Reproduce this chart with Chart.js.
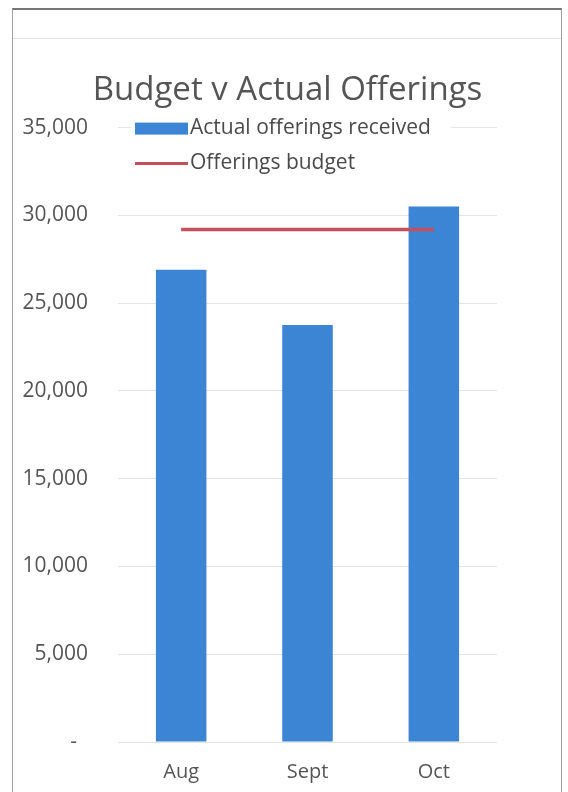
<!DOCTYPE html>
<html>
<head>
<meta charset="utf-8">
<script src="https://cdn.jsdelivr.net/npm/chart.js@4"></script>
<style>
  html, body { margin: 0; padding: 0; background: #fff; }
  #wrap { position: relative; width: 568px; height: 792px; overflow: hidden; }
  #frame { position: absolute; left: 12px; top: 8px; width: 548px; height: 820px;
           border: 1px solid #a0a0a0; border-top: 2px solid #777; }
  #rule { position: absolute; left: 13px; top: 38px; width: 548px; height: 1px; background: #e2e2e2; }
  #chart { position: absolute; left: 0; top: 0; }
</style>
</head>
<body>
<div id="wrap">
  <div id="frame"></div>
  <div id="rule"></div>
  <canvas id="chart" width="568" height="792"></canvas>
</div>
<script>
// Values
const months = ['Aug', 'Sept', 'Oct'];
const actualOfferings = [26900, 23750, 30500];
const offeringsBudget = [29200, 29200, 29200];
const yTicks = [0, 5000, 10000, 15000, 20000, 25000, 30000, 35000];

const barBlue = '#3c85d5';
const budgetRed = '#c4505e';
const textGrey = '#555555';

// Excel-style legend stacked inside the top of the plot area
const insideLegend = {
    id: 'insideLegend',
    afterDatasetsDraw(chart) {
        const ctx = chart.ctx;
        const area = chart.chartArea;
        const x0 = area.left + 17;
        let y = area.top + 1;
        ctx.save();
        ctx.fillStyle = '#fff';
        ctx.fillRect(x0 - 4, y - 14, 320, 58);
        ctx.font = '21px "Open Sans"';
        ctx.textBaseline = 'middle';
        chart.data.datasets.forEach(ds => {
            if (ds.type === 'line') {
                ctx.strokeStyle = ds.borderColor;
                ctx.lineWidth = 3;
                ctx.beginPath();
                ctx.moveTo(x0, y);
                ctx.lineTo(x0 + 53, y);
                ctx.stroke();
            } else {
                ctx.fillStyle = ds.backgroundColor;
                ctx.fillRect(x0, y - 6, 53, 12);
            }
            ctx.fillStyle = '#4a4a4a';
            ctx.fillText(ds.label, x0 + 55, y - 1);
            y += 35;
        });
        ctx.restore();
    }
};

const ctx = document.getElementById('chart').getContext('2d');
new Chart(ctx, {
    type: 'bar',
    data: {
        labels: months,
        datasets: [
            {
                type: 'bar',
                label: 'Actual offerings received',
                data: actualOfferings,
                backgroundColor: barBlue,
                barPercentage: 0.4,
                categoryPercentage: 1.0,
                order: 2
            },
            {
                type: 'line',
                label: 'Offerings budget',
                data: offeringsBudget,
                borderColor: budgetRed,
                borderWidth: 3.5,
                pointRadius: 0,
                fill: false,
                order: 1
            }
        ]
    },
    options: {
        responsive: false,
        animation: false,
        layout: { padding: { left: 7, right: 0, top: 0, bottom: 0 } },
        plugins: {
            legend: { display: false },
            tooltip: { enabled: false },
            title: {
                display: true,
                text: 'Budget v Actual Offerings',
                color: textGrey,
                font: { family: 'Open Sans', size: 33, weight: 'normal' },
                padding: { top: 71, bottom: 17 }
            }
        },
        scales: {
            x: {
                grid: { display: false },
                border: { display: false },
                afterFit(axis) { axis.height = 50; },
                ticks: {
                    color: textGrey,
                    padding: 10,
                    font: { family: 'Open Sans', size: 20 }
                }
            },
            y: {
                min: 0,
                max: 35000,
                afterBuildTicks(axis) {
                    axis.ticks = yTicks.map(v => ({ value: v }));
                },
                afterFit(axis) { axis.width = 111; },
                grid: { color: '#e4e4e4', lineWidth: 1, drawTicks: false },
                border: { display: false },
                ticks: {
                    color: textGrey,
                    padding: 30,
                    font: { family: 'Open Sans', size: 21 },
                    callback: v => v === 0 ? '-  ' : v.toLocaleString('en-US')
                }
            },
            // empty space on the right, as in the original plot
            spacer: {
                type: 'linear',
                position: 'right',
                display: true,
                afterFit(axis) { axis.width = 71; },
                grid: { display: false },
                border: { display: false },
                ticks: { display: false }
            }
        }
    },
    plugins: [insideLegend]
});
</script>
</body>
</html>
